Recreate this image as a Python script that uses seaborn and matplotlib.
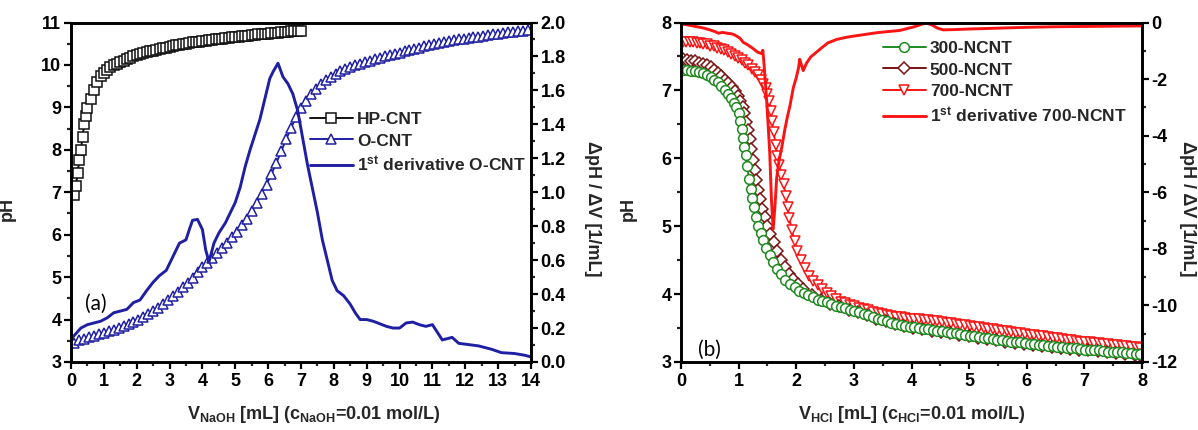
import matplotlib
matplotlib.use("Agg")
import matplotlib.pyplot as plt
import seaborn as sns
import numpy as np
from matplotlib.ticker import MultipleLocator, FormatStrFormatter

# ---------------- data: panel (a) ----------------
hp_x = [0.10, 0.15, 0.20, 0.25, 0.30, 0.35, 0.40, 0.45, 0.50,
        0.6, 0.7, 0.8, 0.9, 1.0, 1.1, 1.2, 1.3, 1.4, 1.5, 1.6, 1.7, 1.8, 1.9, 2.0,
        2.1, 2.2, 2.3, 2.4, 2.5, 2.6, 2.7, 2.8, 2.9, 3.0, 3.1, 3.2, 3.3, 3.4, 3.5,
        3.6, 3.7, 3.8, 3.9, 4.0, 4.1, 4.2, 4.3, 4.4, 4.5, 4.6, 4.7, 4.8, 4.9, 5.0,
        5.1, 5.2, 5.3, 5.4, 5.5, 5.6, 5.7, 5.8, 5.9, 6.0, 6.1, 6.2, 6.3, 6.4, 6.5,
        6.6, 6.7, 6.8, 6.9, 7.0]
hp_ph = [6.93, 7.15, 7.45, 7.75, 8.00, 8.30, 8.60, 8.80, 8.98,
         9.20, 9.42, 9.60, 9.73, 9.82, 9.89, 9.94, 9.99, 10.03, 10.07, 10.10, 10.14, 10.17, 10.20, 10.23,
         10.25, 10.28, 10.30, 10.32, 10.34, 10.36, 10.38, 10.40, 10.41, 10.43, 10.44, 10.46, 10.47, 10.49, 10.50,
         10.51, 10.53, 10.54, 10.55, 10.56, 10.57, 10.58, 10.59, 10.60, 10.61, 10.62, 10.63, 10.64, 10.65, 10.66,
         10.67, 10.68, 10.68, 10.69, 10.70, 10.71, 10.72, 10.72, 10.73, 10.74, 10.75, 10.75, 10.76, 10.77, 10.77,
         10.78, 10.79, 10.79, 10.80, 10.81]

o_x = [0.10, 0.25, 0.40, 0.55, 0.70, 0.85, 1.00, 1.15, 1.30, 1.45, 1.60, 1.75, 1.90, 2.05, 2.20,
       2.35, 2.50, 2.65, 2.80, 2.95, 3.10, 3.25, 3.40, 3.55, 3.70, 3.85, 4.00, 4.15, 4.30, 4.45,
       4.60, 4.75, 4.90, 5.05, 5.20, 5.35, 5.50, 5.65, 5.80, 5.95, 6.10, 6.25, 6.40, 6.55, 6.70,
       6.85, 7.00, 7.15, 7.30, 7.45, 7.60, 7.75, 7.90, 8.05, 8.20, 8.35, 8.50, 8.65, 8.80, 8.95,
       9.10, 9.25, 9.40, 9.55, 9.70, 9.85, 10.00, 10.15, 10.30, 10.45, 10.60, 10.75, 10.90, 11.05,
       11.20, 11.35, 11.50, 11.65, 11.80, 11.95, 12.10, 12.25, 12.40, 12.55, 12.70, 12.85, 13.00,
       13.15, 13.30, 13.45, 13.60, 13.75, 13.90]
o_ph = [3.45, 3.52, 3.54, 3.58, 3.61, 3.65, 3.68, 3.72, 3.76, 3.80, 3.85, 3.90, 3.95, 4.00, 4.07,
        4.14, 4.21, 4.28, 4.36, 4.45, 4.55, 4.65, 4.76, 4.87, 4.99, 5.12, 5.24, 5.34, 5.44, 5.56,
        5.68, 5.81, 5.94, 6.07, 6.22, 6.38, 6.55, 6.75, 6.96, 7.18, 7.43, 7.69, 7.97, 8.25, 8.52,
        8.77, 8.98, 9.16, 9.31, 9.44, 9.55, 9.64, 9.72, 9.79, 9.85, 9.90, 9.95, 9.99, 10.03, 10.07,
        10.10, 10.14, 10.17, 10.20, 10.23, 10.26, 10.29, 10.32, 10.35, 10.38, 10.41, 10.44, 10.47, 10.49,
        10.52, 10.54, 10.56, 10.58, 10.60, 10.62, 10.64, 10.66, 10.67, 10.69, 10.71, 10.72, 10.74,
        10.75, 10.77, 10.78, 10.79, 10.80, 10.82]

od_x = [0.07, 0.3, 0.5, 0.7, 0.9, 1.1, 1.3, 1.5, 1.7, 1.9, 2.1, 2.3, 2.5, 2.7, 2.9, 3.1, 3.3, 3.5,
        3.6, 3.7, 3.85, 4.0, 4.1, 4.2, 4.35, 4.5, 4.7, 4.85, 5.0, 5.15, 5.3, 5.45, 5.6, 5.75, 5.9,
        6.05, 6.15, 6.3, 6.45, 6.6, 6.75, 6.9, 7.05, 7.2, 7.35, 7.5, 7.65, 7.8, 7.95, 8.1, 8.3, 8.5,
        8.65, 8.8, 9.0, 9.2, 9.4, 9.6, 9.8, 10.0, 10.2, 10.4, 10.6, 10.8, 11.0, 11.1, 11.3, 11.6,
        11.8, 12.0, 12.4, 12.8, 13.1, 13.5, 13.8, 14.0]
od_d = [0.15, 0.20, 0.22, 0.23, 0.24, 0.26, 0.29, 0.30, 0.31, 0.35, 0.365, 0.42, 0.47, 0.51, 0.54,
        0.62, 0.70, 0.72, 0.78, 0.835, 0.84, 0.78, 0.66, 0.59, 0.70, 0.76, 0.82, 0.88, 0.94, 1.03,
        1.15, 1.25, 1.34, 1.43, 1.55, 1.67, 1.71, 1.76, 1.68, 1.64, 1.58, 1.48, 1.32, 1.16, 1.02,
        0.88, 0.72, 0.60, 0.48, 0.42, 0.39, 0.34, 0.29, 0.25, 0.25, 0.24, 0.225, 0.21, 0.20, 0.20,
        0.23, 0.235, 0.22, 0.21, 0.22, 0.19, 0.13, 0.145, 0.11, 0.105, 0.095, 0.075, 0.055, 0.05,
        0.04, 0.03]

# ---------------- data: panel (b) ----------------
n300_x = [0.03, 0.10, 0.17, 0.24, 0.31, 0.38, 0.45, 0.52, 0.58, 0.64, 0.70, 0.76, 0.82, 0.87, 0.92,
          0.96, 1.00, 1.03, 1.06, 1.08, 1.10, 1.12, 1.15, 1.18, 1.21, 1.24, 1.27, 1.30, 1.34, 1.38,
          1.43, 1.48, 1.54, 1.60, 1.67, 1.74, 1.81, 1.89, 1.97, 2.05, 2.13, 2.21, 2.29, 2.37, 2.45,
          2.53, 2.61, 2.69, 2.77, 2.85, 2.93, 3.01, 3.09, 3.17, 3.25, 3.33, 3.41, 3.49, 3.57, 3.65,
          3.73, 3.81, 3.89, 3.97, 4.05, 4.13, 4.21, 4.29, 4.37, 4.45, 4.53, 4.61, 4.69, 4.77, 4.85,
          4.93, 5.01, 5.09, 5.17, 5.25, 5.33, 5.41, 5.49, 5.57, 5.65, 5.73, 5.81, 5.89, 5.97, 6.05,
          6.13, 6.21, 6.29, 6.37, 6.45, 6.53, 6.61, 6.69, 6.77, 6.85, 6.93, 7.01, 7.09, 7.17, 7.25,
          7.33, 7.41, 7.49, 7.57, 7.65, 7.73, 7.81, 7.89, 7.97]
n300_ph = [7.30, 7.30, 7.29, 7.28, 7.27, 7.25, 7.23, 7.20, 7.16, 7.12, 7.07, 7.01, 6.95, 6.89, 6.82,
           6.75, 6.66, 6.55, 6.43, 6.30, 6.17, 6.05, 5.88, 5.70, 5.55, 5.42, 5.28, 5.14, 5.01, 4.90,
           4.80, 4.68, 4.57, 4.47, 4.37, 4.29, 4.21, 4.15, 4.10, 4.05, 4.01, 3.98, 3.95, 3.92, 3.90,
           3.88, 3.86, 3.83, 3.81, 3.79, 3.77, 3.75, 3.73, 3.71, 3.69, 3.66, 3.64, 3.62, 3.60, 3.58,
           3.56, 3.54, 3.53, 3.52, 3.51, 3.50, 3.49, 3.48, 3.47, 3.46, 3.45, 3.44, 3.43, 3.42, 3.41,
           3.40, 3.39, 3.38, 3.37, 3.36, 3.35, 3.34, 3.33, 3.32, 3.31, 3.30, 3.29, 3.29, 3.28, 3.27,
           3.26, 3.25, 3.25, 3.24, 3.23, 3.22, 3.22, 3.21, 3.20, 3.20, 3.19, 3.18, 3.18, 3.17, 3.17,
           3.16, 3.15, 3.15, 3.14, 3.14, 3.13, 3.13, 3.12, 3.12]

n500_x = [0.03, 0.10, 0.17, 0.24, 0.31, 0.38, 0.45, 0.52, 0.58, 0.64, 0.70, 0.76, 0.82, 0.88, 0.94,
          0.99, 1.03, 1.07, 1.10, 1.13, 1.16, 1.19, 1.22, 1.25, 1.28, 1.31, 1.34, 1.37, 1.41, 1.45,
          1.50, 1.55, 1.61, 1.67, 1.74, 1.81, 1.88, 1.95, 2.03, 2.11, 2.27, 2.43, 2.59, 2.75, 2.91,
          3.07, 3.23, 3.39, 3.55, 3.71, 3.87, 4.03, 4.19, 4.35, 4.51, 4.67, 4.83, 4.99, 5.15, 5.31,
          5.47, 5.63, 5.79, 5.95, 6.11, 6.27, 6.43, 6.59, 6.75, 6.91, 7.07, 7.23, 7.39, 7.55, 7.71,
          7.87, 7.97]
n500_ph = [7.46, 7.45, 7.44, 7.43, 7.41, 7.39, 7.37, 7.34, 7.30, 7.26, 7.21, 7.16, 7.11, 7.05, 6.99,
           6.92, 6.85, 6.76, 6.66, 6.54, 6.41, 6.28, 6.13, 5.98, 5.83, 5.68, 5.53, 5.40, 5.26, 5.13,
           5.00, 4.88, 4.76, 4.64, 4.50, 4.40, 4.30, 4.22, 4.15, 4.08, 3.98, 3.91, 3.86, 3.82, 3.77,
           3.73, 3.69, 3.64, 3.60, 3.56, 3.53, 3.50, 3.48, 3.46, 3.44, 3.42, 3.40, 3.38, 3.36, 3.34,
           3.32, 3.30, 3.28, 3.27, 3.25, 3.24, 3.22, 3.21, 3.19, 3.18, 3.17, 3.16, 3.14, 3.13, 3.12,
           3.11, 3.10]

n700_x = [0.03, 0.09, 0.15, 0.21, 0.27, 0.33, 0.39, 0.45, 0.51, 0.57, 0.63, 0.69, 0.75, 0.81, 0.87,
          0.93, 0.99, 1.05, 1.11, 1.17, 1.23, 1.28, 1.33, 1.38, 1.43, 1.47, 1.50, 1.53, 1.56, 1.58,
          1.61, 1.64, 1.67, 1.70, 1.74, 1.78, 1.82, 1.85, 1.88, 1.92, 1.97, 2.02, 2.08, 2.15, 2.22,
          2.29, 2.37, 2.45, 2.53, 2.61, 2.69, 2.77, 2.85, 2.93, 3.01, 3.09, 3.17, 3.25, 3.33, 3.41,
          3.49, 3.57, 3.65, 3.73, 3.81, 3.89, 3.97, 4.05, 4.13, 4.21, 4.29, 4.37, 4.45, 4.53, 4.61,
          4.69, 4.77, 4.85, 4.93, 5.01, 5.09, 5.17, 5.25, 5.33, 5.41, 5.49, 5.57, 5.65, 5.73, 5.81,
          5.89, 5.97, 6.05, 6.13, 6.21, 6.29, 6.37, 6.45, 6.53, 6.61, 6.69, 6.77, 6.85, 6.93, 7.01,
          7.09, 7.17, 7.25, 7.33, 7.41, 7.49, 7.57, 7.65, 7.73, 7.81, 7.89, 7.97]
n700_ph = [7.72, 7.72, 7.71, 7.71, 7.70, 7.70, 7.69, 7.68, 7.66, 7.65, 7.63, 7.61, 7.59, 7.56, 7.54,
           7.51, 7.48, 7.45, 7.41, 7.37, 7.32, 7.27, 7.22, 7.16, 7.10, 7.03, 6.95, 6.84, 6.70, 6.55,
           6.38, 6.20, 6.04, 5.90, 5.76, 5.62, 5.45, 5.28, 5.12, 4.95, 4.78, 4.63, 4.50, 4.38, 4.27,
           4.20, 4.13, 4.07, 4.02, 3.97, 3.93, 3.89, 3.87, 3.84, 3.82, 3.80, 3.78, 3.76, 3.74, 3.72,
           3.71, 3.69, 3.68, 3.67, 3.66, 3.65, 3.64, 3.63, 3.63, 3.62, 3.62, 3.61, 3.60, 3.59, 3.58,
           3.57, 3.56, 3.55, 3.54, 3.53, 3.52, 3.51, 3.50, 3.49, 3.48, 3.47, 3.46, 3.45, 3.44, 3.43,
           3.42, 3.41, 3.40, 3.40, 3.39, 3.38, 3.37, 3.36, 3.35, 3.34, 3.33, 3.32, 3.31, 3.30, 3.30,
           3.29, 3.28, 3.28, 3.27, 3.26, 3.25, 3.25, 3.24, 3.23, 3.22, 3.22, 3.21]

nd_x = [0.00, 0.10, 0.20, 0.30, 0.40, 0.50, 0.60, 0.65, 0.72, 0.80, 0.88, 0.94, 1.02, 1.08, 1.15,
        1.25, 1.33, 1.40, 1.42, 1.44, 1.49, 1.54, 1.57, 1.60, 1.63, 1.66, 1.70, 1.75, 1.80, 1.85,
        1.89, 1.95, 2.00, 2.04, 2.06, 2.09, 2.12, 2.18, 2.25, 2.35, 2.45, 2.55, 2.70, 2.85, 3.00,
        3.20, 3.40, 3.60, 3.80, 3.95, 4.05, 4.15, 4.25, 4.35, 4.45, 4.55, 4.75, 5.0, 5.5, 6.0,
        6.5, 7.0, 7.5, 8.0]
nd_d = [-0.05, -0.08, -0.12, -0.16, -0.20, -0.26, -0.33, -0.38, -0.35, -0.38, -0.40, -0.45, -0.55,
        -0.70, -0.78, -0.92, -1.05, -1.10, -0.98, -1.45, -2.85, -4.6, -6.3, -7.3, -6.5, -5.5, -4.9,
        -4.4, -3.8, -3.3, -2.95, -2.3, -1.95, -1.6, -1.3, -1.5, -1.7, -1.43, -1.22, -1.05, -0.88,
        -0.72, -0.60, -0.53, -0.48, -0.42, -0.36, -0.32, -0.28, -0.20, -0.15, -0.08, -0.02, -0.08,
        -0.20, -0.26, -0.25, -0.23, -0.20, -0.17, -0.15, -0.14, -0.13, -0.12]

lab_a = ["HP-CNT", "O-CNT", r"1$^{\mathbf{st}}$ derivative O-CNT"]
lab_b = ["300-NCNT", "500-NCNT", "700-NCNT", r"1$^{\mathbf{st}}$ derivative 700-NCNT"]

C_BLACK = "#111111"
C_BLUE = "#1f1fa3"
C_GREEN = "#1f8a1f"
C_BROWN = "#7a1212"
C_RED = "#fa1414"

# ---------------- style ----------------
sns.set_theme(style="ticks")
plt.rcParams["font.family"] = ["Liberation Sans", "DejaVu Sans"]
plt.rcParams["font.weight"] = "bold"
plt.rcParams["axes.unicode_minus"] = False
plt.rcParams["mathtext.fontset"] = "custom"
plt.rcParams["mathtext.rm"] = "Liberation Sans:bold"
plt.rcParams["mathtext.bf"] = "Liberation Sans:bold"
plt.rcParams["mathtext.it"] = "Liberation Sans:bold"
plt.rcParams["mathtext.default"] = "bf"

W, H = 1198, 430
fig = plt.figure(figsize=(W / 100, H / 100), dpi=100)
axA = fig.add_axes([71 / W, 1 - 362 / H, 460 / W, 339.5 / H])
axB = fig.add_axes([681 / W, 1 - 362 / H, 461 / W, 339.5 / H])
axA2 = axA.twinx()
axB2 = axB.twinx()

TICK_FS = 13
LAB_FS = 13


def style_axes(ax, ax2):
    for a in (ax, ax2):
        for s in a.spines.values():
            s.set_linewidth(1.9)
            s.set_color("black")
    ax.tick_params(axis="both", which="major", direction="out", length=5, width=1.6,
                   labelsize=TICK_FS, colors="black", top=False, right=False)
    ax.tick_params(axis="both", which="minor", direction="out", length=3, width=1.6,
                   top=False, right=False)
    ax.tick_params(axis="x", which="major", pad=3)
    ax.tick_params(axis="y", which="major", pad=2)
    ax2.tick_params(axis="y", which="major", direction="out", length=5, width=1.6,
                    labelsize=TICK_FS, colors="black", pad=2)
    ax2.tick_params(axis="y", which="minor", direction="out", length=3, width=1.6)
    for lab in ax.get_xticklabels() + ax.get_yticklabels() + ax2.get_yticklabels():
        lab.set_fontweight("bold")


def draw(ax, x, y, color, marker, ms, label, mew=1.1):
    sns.lineplot(x=x, y=y, ax=ax, color=color, marker=marker, markersize=ms,
                 markerfacecolor="white", markeredgecolor=color, markeredgewidth=mew,
                 linewidth=1.4, estimator=None, sort=False, label=label, legend=False)


# ---------------- panel (a) ----------------
draw(axA, o_x, o_ph, C_BLUE, "^", 7, lab_a[1])
draw(axA, hp_x, hp_ph, C_BLACK, "s", 6.5, lab_a[0])
sns.lineplot(x=od_x, y=od_d, ax=axA2, color=C_BLUE, linewidth=2.1, estimator=None,
             sort=False, label=lab_a[2], legend=False)

axA.set_xlim(0, 14)
axA.set_ylim(3, 11)
axA2.set_ylim(0, 2.0)
axA.xaxis.set_major_locator(MultipleLocator(1))
axA.xaxis.set_minor_locator(MultipleLocator(0.5))
axA.yaxis.set_major_locator(MultipleLocator(1))
axA.yaxis.set_minor_locator(MultipleLocator(0.5))
axA2.yaxis.set_major_locator(MultipleLocator(0.2))
axA2.yaxis.set_minor_locator(MultipleLocator(0.1))
axA2.yaxis.set_major_formatter(FormatStrFormatter("%.1f"))
style_axes(axA, axA2)

axA.set_xlabel(r"V$_{\mathrm{NaOH}}$ [mL] (c$_{\mathrm{NaOH}}$=0.01 mol/L)",
               fontsize=LAB_FS, fontweight="bold")
axA.set_ylabel("pH", fontsize=LAB_FS, fontweight="bold")
axA2.set_ylabel("ΔpH / ΔV [1/mL]", fontsize=LAB_FS, fontweight="bold", rotation=270,
                va="center")
axA.xaxis.set_label_coords(0.528, -0.125)
axA.yaxis.set_label_coords(-0.12, 0.45)
axA2.yaxis.set_label_coords(1.133, 0.45)

axA.text(0.43, 4.38, "(a)", fontsize=15, fontweight="normal", family="Lato",
         ha="left", va="center", color="black")

la = axA.get_lines()
hA = [la[1], la[0], axA2.get_lines()[0]]
legA = axA2.legend(hA, lab_a, loc="upper left", bbox_to_anchor=(310 / W, 1 - 112 / H),
                   bbox_transform=fig.transFigure, frameon=False, fontsize=12.5,
                   handlelength=2.45, handletextpad=0.25, labelspacing=0.36,
                   borderpad=0, borderaxespad=0, numpoints=1)
for t in legA.get_texts():
    t.set_fontweight("bold")

# ---------------- panel (b) ----------------
draw(axB, n700_x, n700_ph, C_RED, "v", 7.5, lab_b[2])
draw(axB, n500_x, n500_ph, C_BROWN, "D", 6, lab_b[1])
draw(axB, n300_x, n300_ph, C_GREEN, "o", 7, lab_b[0])
sns.lineplot(x=nd_x, y=nd_d, ax=axB2, color=C_RED, linewidth=2.1, estimator=None,
             sort=False, label=lab_b[3], legend=False)

axB.set_xlim(0, 8)
axB.set_ylim(3, 8)
axB2.set_ylim(-12, 0)
axB.xaxis.set_major_locator(MultipleLocator(1))
axB.xaxis.set_minor_locator(MultipleLocator(0.5))
axB.yaxis.set_major_locator(MultipleLocator(1))
axB.yaxis.set_minor_locator(MultipleLocator(0.5))
axB2.yaxis.set_major_locator(MultipleLocator(2))
axB2.yaxis.set_minor_locator(MultipleLocator(1))
axB2.yaxis.set_major_formatter(FormatStrFormatter("%d"))
style_axes(axB, axB2)

axB.set_xlabel(r"V$_{\mathrm{HCl}}$ [mL] (c$_{\mathrm{HCl}}$=0.01 mol/L)",
               fontsize=LAB_FS, fontweight="bold")
axB.set_ylabel("pH", fontsize=LAB_FS, fontweight="bold")
axB2.set_ylabel("ΔpH / ΔV [1/mL]", fontsize=LAB_FS, fontweight="bold", rotation=270,
                va="center")
axB.xaxis.set_label_coords(0.5, -0.125)
axB.yaxis.set_label_coords(-0.095, 0.45)
axB2.yaxis.set_label_coords(1.098, 0.45)

axB.text(0.29, 3.18, "(b)", fontsize=15, fontweight="normal", family="Lato",
         ha="left", va="center", color="black")

lb = axB.get_lines()
hB = [lb[2], lb[1], lb[0], axB2.get_lines()[0]]
legB = axB2.legend(hB, lab_b, loc="upper left", bbox_to_anchor=(883 / W, 1 - 41 / H),
                   bbox_transform=fig.transFigure, frameon=False, fontsize=12.5,
                   handlelength=2.45, handletextpad=0.25, labelspacing=0.36,
                   borderpad=0, borderaxespad=0, numpoints=1)
for t in legB.get_texts():
    t.set_fontweight("bold")

fig.savefig("out.png", dpi=100, facecolor="white")
